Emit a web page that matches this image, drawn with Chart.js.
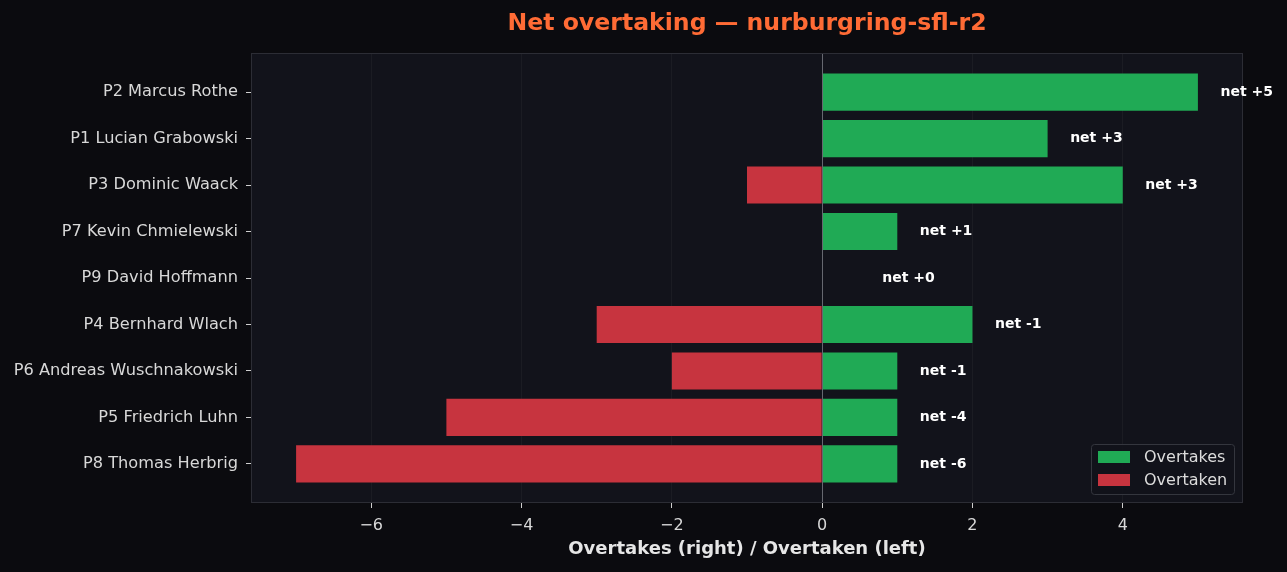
<!DOCTYPE html>
<html>
<head>
<meta charset="utf-8">
<script src="https://cdn.jsdelivr.net/npm/chart.js@4.4.1/dist/chart.umd.min.js"></script>
<style>
  html, body { margin: 0; padding: 0; background: #0b0b0f; }
  #wrap { width: 1287px; height: 572px; }
</style>
</head>
<body>
<div id="wrap"><canvas id="c"></canvas></div>
<script>
const drivers = [
  "P2 Marcus Rothe",
  "P1 Lucian Grabowski",
  "P3 Dominic Waack",
  "P7 Kevin Chmielewski",
  "P9 David Hoffmann",
  "P4 Bernhard Wlach",
  "P6 Andreas Wuschnakowski",
  "P5 Friedrich Luhn",
  "P8 Thomas Herbrig"
];
const overtakes = [5, 3, 4, 1, 0, 2, 1, 1, 1];
const overtaken = [0, 0, 1, 0, 0, 3, 2, 5, 7];
const netValues = [5, 3, 3, 1, 0, -1, -1, -4, -6];
const xTicks = [-6, -4, -2, 0, 2, 4];
const chartTitle = 'Net overtaking \u2014 nurburgring-sfl-r2';

const FONT = "'DejaVu Sans', sans-serif";
const GREEN = '#20aa55';
const RED = '#c7343f';

const bgPlugin = {
  id: 'bgPlugin',
  beforeDraw(chart) {
    const { ctx, chartArea: a } = chart;
    ctx.save();
    ctx.fillStyle = '#0b0b0f';
    ctx.fillRect(0, 0, chart.width, chart.height);
    ctx.fillStyle = '#12131b';
    ctx.fillRect(a.left, a.top, a.right - a.left, a.bottom - a.top);
    // title centred over plot area
    ctx.fillStyle = '#ff6b35';
    ctx.font = 'bold 23.6px ' + FONT;
    ctx.textAlign = 'center';
    ctx.textBaseline = 'middle';
    ctx.fillText(chartTitle, (a.left + a.right) / 2, 24);
    ctx.restore();
  },
  afterDatasetsDraw(chart) {
    const { ctx, chartArea: a, scales } = chart;
    const xs = scales.x, ys = scales.y;
    ctx.save();
    // zero line
    const x0 = Math.round(xs.getPixelForValue(0)) + 0.5;
    ctx.strokeStyle = '#666870';
    ctx.lineWidth = 1;
    ctx.beginPath();
    ctx.moveTo(x0, a.top);
    ctx.lineTo(x0, a.bottom);
    ctx.stroke();
    // border
    ctx.strokeStyle = '#2c2d35';
    ctx.strokeRect(a.left + 0.5, a.top + 0.5, a.right - a.left - 1, a.bottom - a.top - 1);
    // net labels
    ctx.fillStyle = '#ffffff';
    ctx.font = 'bold 14px ' + FONT;
    ctx.textAlign = 'left';
    ctx.textBaseline = 'middle';
    netValues.forEach((n, i) => {
      const pos = Math.max(overtakes[i], 0.5) + 0.3;
      const label = 'net ' + (n >= 0 ? '+' : '') + n;
      ctx.fillText(label, xs.getPixelForValue(pos), ys.getPixelForValue(i));
    });
    // legend
    const lx = 1091, ly = 444, lw = 143, lh = 50;
    ctx.fillStyle = 'rgba(18,19,27,0.9)';
    ctx.strokeStyle = '#34363e';
    ctx.beginPath();
    if (ctx.roundRect) ctx.roundRect(lx + 0.5, ly + 0.5, lw, lh, 3); else ctx.rect(lx + 0.5, ly + 0.5, lw, lh);
    ctx.fill();
    ctx.stroke();
    chart.data.datasets.forEach((ds, k) => {
      const yy = ly + 13 + k * 23;
      ctx.fillStyle = ds.backgroundColor;
      ctx.fillRect(lx + 7, yy - 6, 32, 12);
      ctx.fillStyle = '#dcdcdc';
      ctx.font = '16px ' + FONT;
      ctx.textBaseline = 'middle';
      ctx.fillText(ds.label, lx + 53, yy + 1);
    });
    ctx.restore();
  }
};

new Chart(document.getElementById('c'), {
  type: 'bar',
  data: {
    datasets: [
      {
        label: 'Overtakes',
        data: overtakes.map((v, i) => ({ x: v, y: i })),
        backgroundColor: GREEN,
        barPercentage: 0.8,
        categoryPercentage: 1.0
      },
      {
        label: 'Overtaken',
        data: overtaken.map((v, i) => ({ x: -v, y: i })),
        backgroundColor: RED,
        barPercentage: 0.8,
        categoryPercentage: 1.0
      }
    ]
  },
  options: {
    indexAxis: 'y',
    responsive: true,
    maintainAspectRatio: false,
    animation: false,
    devicePixelRatio: 1,
    layout: { padding: { top: 53, right: 44, bottom: 0, left: 0 } },
    plugins: {
      legend: { display: false },
      tooltip: { enabled: false },
      title: { display: false }
    },
    scales: {
      x: {
        type: 'linear',
        stacked: true,
        min: -7.6,
        max: 5.6,
        offset: false,
        afterBuildTicks(scale) { scale.ticks = xTicks.map(v => ({ value: v })); },
        afterFit(scale) { scale.height = 69; },
        ticks: {
          color: '#d8d8d8',
          font: { family: FONT, size: 16 },
          padding: 8,
          maxRotation: 0,
          callback: v => (v < 0 ? '\u2212' + Math.abs(v) : String(v))
        },
        grid: {
          offset: false,
          color: 'rgba(255,255,255,0.04)',
          tickColor: '#cfcfcf',
          tickLength: 5,
          drawTicks: true
        },
        border: { display: false },
        title: {
          display: true,
          text: 'Overtakes (right) / Overtaken (left)',
          color: '#e6e6e6',
          font: { family: FONT, size: 18, weight: 'bold' },
          padding: { top: 4, bottom: 12 }
        }
      },
      y: {
        type: 'linear',
        stacked: true,
        reverse: true,
        offset: false,
        min: -0.84,
        max: 8.84,
        afterBuildTicks(scale) { scale.ticks = drivers.map((_, i) => ({ value: i })); },
        afterFit(scale) { scale.width = 251; },
        ticks: {
          color: '#d8d8d8',
          font: { family: FONT, size: 16.2 },
          padding: 8,
          callback: v => drivers[v]
        },
        grid: {
          offset: false,
          display: true,
          drawOnChartArea: false,
          tickColor: '#cfcfcf',
          tickLength: 5
        },
        border: { display: false }
      }
    }
  },
  plugins: [bgPlugin]
});
</script>
</body>
</html>
